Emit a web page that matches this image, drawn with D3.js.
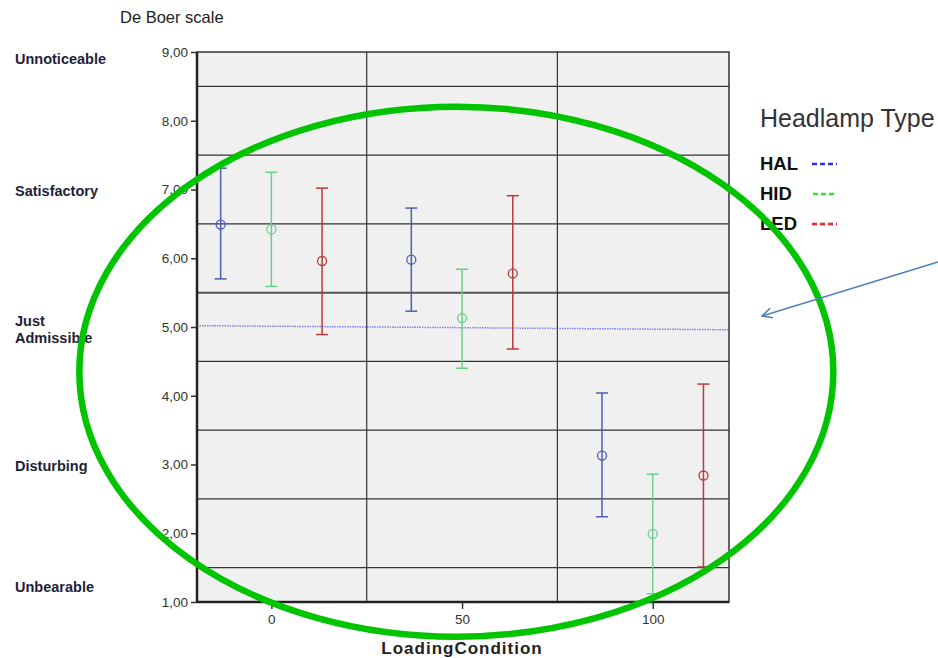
<!DOCTYPE html>
<html>
<head>
<meta charset="utf-8">
<script src="https://cdn.jsdelivr.net/npm/d3@7"></script>
<style>
  body { margin: 0; background: #fff; font-family: Arial, "Liberation Sans", sans-serif; }
  .axis text { font-family: Arial, "Liberation Sans", sans-serif; font-size: 13.5px; fill: #333; }
  .axis path { display: none; }
  .axis line { stroke: #333; }
</style>
</head>
<body>
<div id="chart"></div>
<script>
// data
const conditions = [0, 50, 100];
const lampTypes = ["HAL", "HID", "LED"];
const means = {
    HAL: [6.49, 5.98, 3.13],
    HID: [6.42, 5.13, 1.99],
    LED: [5.96, 5.78, 2.84]
};
const lower = {
    HAL: [5.70, 5.23, 2.24],
    HID: [5.59, 4.40, 1.12],
    LED: [4.89, 4.68, 1.51]
};
const upper = {
    HAL: [7.31, 6.73, 4.04],
    HID: [7.25, 5.84, 2.86],
    LED: [7.02, 6.91, 4.17]
};
const yTicks = [1, 2, 3, 4, 5, 6, 7, 8, 9];
const gridValues = [8.5, 7.5, 6.5, 5.5, 4.5, 3.5, 2.5, 1.5];
const separators = [25, 75];
const deBoerLabels = [
    {value: 9, lines: ["Unnoticeable"]},
    {value: 7, lines: ["Satisfactory"]},
    {value: 5, lines: ["Just", "Admissible"]},
    {value: 3, lines: ["Disturbing"]},
    {value: 1, lines: ["Unbearable"]}
];
const refLine = [5.02, 4.96];

const colors = {
    HAL: "#4a5fb5",
    HID: "#6ccf8a",
    LED: "#b83c3c"
};
const legendColors = {HAL: "#3333dd", HID: "#22ee22", LED: "#ee2222"};

const W = 938, H = 658;
const plot = {left: 197, right: 729, top: 52, bottom: 602};

const svg = d3.select("#chart").append("svg")
    .attr("width", W)
    .attr("height", H);

const x = d3.scaleLinear().domain([-19.5, 120]).range([plot.left, plot.right]);
const y = d3.scaleLinear().domain([1, 9]).range([plot.bottom, plot.top]);

// plot background
svg.append("rect")
    .attr("x", plot.left).attr("y", plot.top)
    .attr("width", plot.right - plot.left)
    .attr("height", plot.bottom - plot.top)
    .attr("fill", "#f0f0f0");

// horizontal grid
svg.selectAll(".hgrid")
    .data(gridValues)
    .enter().append("line")
    .attr("class", "hgrid")
    .attr("x1", plot.left).attr("x2", plot.right)
    .attr("y1", d => y(d)).attr("y2", d => y(d))
    .attr("stroke", d => d === 5.5 ? "#555" : "#333")
    .attr("stroke-width", d => d === 5.5 ? 2 : 1.2);

// vertical separators
svg.selectAll(".vgrid")
    .data(separators)
    .enter().append("line")
    .attr("class", "vgrid")
    .attr("x1", d => x(d)).attr("x2", d => x(d))
    .attr("y1", plot.top).attr("y2", plot.bottom)
    .attr("stroke", "#333")
    .attr("stroke-width", 1.2);

// frame
svg.append("rect")
    .attr("x", plot.left).attr("y", plot.top)
    .attr("width", plot.right - plot.left)
    .attr("height", plot.bottom - plot.top)
    .attr("fill", "none")
    .attr("stroke", "#333")
    .attr("stroke-width", 1.5);
svg.append("line")
    .attr("x1", plot.left).attr("x2", plot.left)
    .attr("y1", plot.top).attr("y2", plot.bottom)
    .attr("stroke", "#222").attr("stroke-width", 2.5);
svg.append("line")
    .attr("x1", plot.left).attr("x2", plot.right)
    .attr("y1", plot.bottom).attr("y2", plot.bottom)
    .attr("stroke", "#222").attr("stroke-width", 2.5);

// dotted reference line near 5
svg.append("line")
    .attr("x1", plot.left).attr("x2", plot.right)
    .attr("y1", y(refLine[0])).attr("y2", y(refLine[1]))
    .attr("stroke", "#5555ee")
    .attr("stroke-width", 1.5)
    .attr("stroke-dasharray", "1.5,1")
    .attr("opacity", 0.7);

// axes
const yAxis = d3.axisLeft(y)
    .tickValues(yTicks)
    .tickSize(6)
    .tickFormat(d => d + ",00");
svg.append("g")
    .attr("class", "y-axis axis")
    .attr("transform", "translate(" + plot.left + ",0)")
    .call(yAxis);

const xAxis = d3.axisBottom(x)
    .tickValues(conditions)
    .tickSize(7)
    .tickPadding(5)
    .tickFormat(d3.format("d"));
svg.append("g")
    .attr("class", "x-axis axis")
    .attr("transform", "translate(0," + plot.bottom + ")")
    .call(xAxis);

svg.selectAll(".axis line").attr("stroke-width", 1.5);

// error bars
const dodge = 13.3;
const capHalf = 6;
lampTypes.forEach((lamp, li) => {
    const off = (li - 1) * dodge;
    const rows = conditions.map((c, i) => ({
        c: c, mean: means[lamp][i], lo: lower[lamp][i], hi: upper[lamp][i]
    }));
    const g = svg.append("g").attr("class", "series-" + lamp.toLowerCase());

    g.selectAll(".stem")
        .data(rows)
        .enter().append("line")
        .attr("x1", d => x(d.c + off)).attr("x2", d => x(d.c + off))
        .attr("y1", d => y(d.lo)).attr("y2", d => y(d.hi))
        .attr("stroke", colors[lamp])
        .attr("stroke-width", 1.5);

    ["lo", "hi"].forEach(k => {
        g.selectAll(".cap-" + k)
            .data(rows)
            .enter().append("line")
            .attr("x1", d => x(d.c + off) - capHalf).attr("x2", d => x(d.c + off) + capHalf)
            .attr("y1", d => y(d[k])).attr("y2", d => y(d[k]))
            .attr("stroke", colors[lamp])
            .attr("stroke-width", 1.5);
    });

    g.selectAll("circle")
        .data(rows)
        .enter().append("circle")
        .attr("cx", d => x(d.c + off))
        .attr("cy", d => y(d.mean))
        .attr("r", 4.5)
        .attr("fill", "none")
        .attr("stroke", colors[lamp])
        .attr("stroke-width", 1.3);
});

// title over y axis
svg.append("text")
    .attr("x", 120).attr("y", 23)
    .attr("font-size", 16.5)
    .attr("fill", "#222")
    .text("De Boer scale");

// De Boer verbal labels
deBoerLabels.forEach(l => {
    const n = l.lines.length;
    let base = y(l.value) + 6;
    if (l.value === 9) base = y(l.value) + 12;
    if (l.value === 1) base = y(l.value) - 10;
    l.lines.forEach((t, i) => {
        svg.append("text")
            .attr("x", 15)
            .attr("y", base + (i - (n - 1)) * 17 + (n > 1 ? 10 : 0))
            .attr("font-size", 14.5)
            .attr("font-weight", "bold")
            .attr("fill", "#1e1e3a")
            .text(t);
    });
});

// x axis title
svg.append("text")
    .attr("x", x(50)).attr("y", 654)
    .attr("text-anchor", "middle")
    .attr("font-size", 17)
    .attr("font-weight", "bold")
    .attr("letter-spacing", 1)
    .attr("fill", "#222")
    .text("LoadingCondition");

// legend
svg.append("text")
    .attr("x", 760).attr("y", 127)
    .attr("font-size", 25)
    .attr("fill", "#333")
    .text("Headlamp Type");

lampTypes.forEach((lamp, i) => {
    const ly = 170 + i * 30;
    svg.append("text")
        .attr("x", 760).attr("y", ly)
        .attr("font-size", 18.5)
        .attr("font-weight", "bold")
        .attr("fill", "#111")
        .text(lamp);
    svg.append("line")
        .attr("x1", lamp === "HID" ? 813 : 812).attr("x2", 837)
        .attr("y1", ly - 6).attr("y2", ly - 6)
        .attr("stroke", legendColors[lamp])
        .attr("stroke-width", 2.5)
        .attr("stroke-dasharray", "5,3");
});

// annotation: green ellipse and arrow
svg.append("ellipse")
    .attr("cx", x(48.5)).attr("cy", y(4.35))
    .attr("rx", 377).attr("ry", 265)
    .attr("fill", "none")
    .attr("stroke", "#00c400")
    .attr("stroke-width", 6.5);

const defs = svg.append("defs");
defs.append("marker")
    .attr("id", "arrow")
    .attr("viewBox", "0 0 12 12")
    .attr("refX", 11).attr("refY", 6)
    .attr("markerWidth", 12).attr("markerHeight", 12)
    .attr("markerUnits", "userSpaceOnUse")
    .attr("orient", "auto")
    .append("path")
    .attr("d", "M1,1 L11,6 L1,11")
    .attr("fill", "none")
    .attr("stroke", "#4a7ebb")
    .attr("stroke-width", 1.5);

svg.append("line")
    .attr("x1", 938).attr("y1", 262)
    .attr("x2", 762).attr("y2", 316)
    .attr("stroke", "#4a7ebb")
    .attr("stroke-width", 1.5)
    .attr("marker-end", "url(#arrow)");
</script>
</body>
</html>
